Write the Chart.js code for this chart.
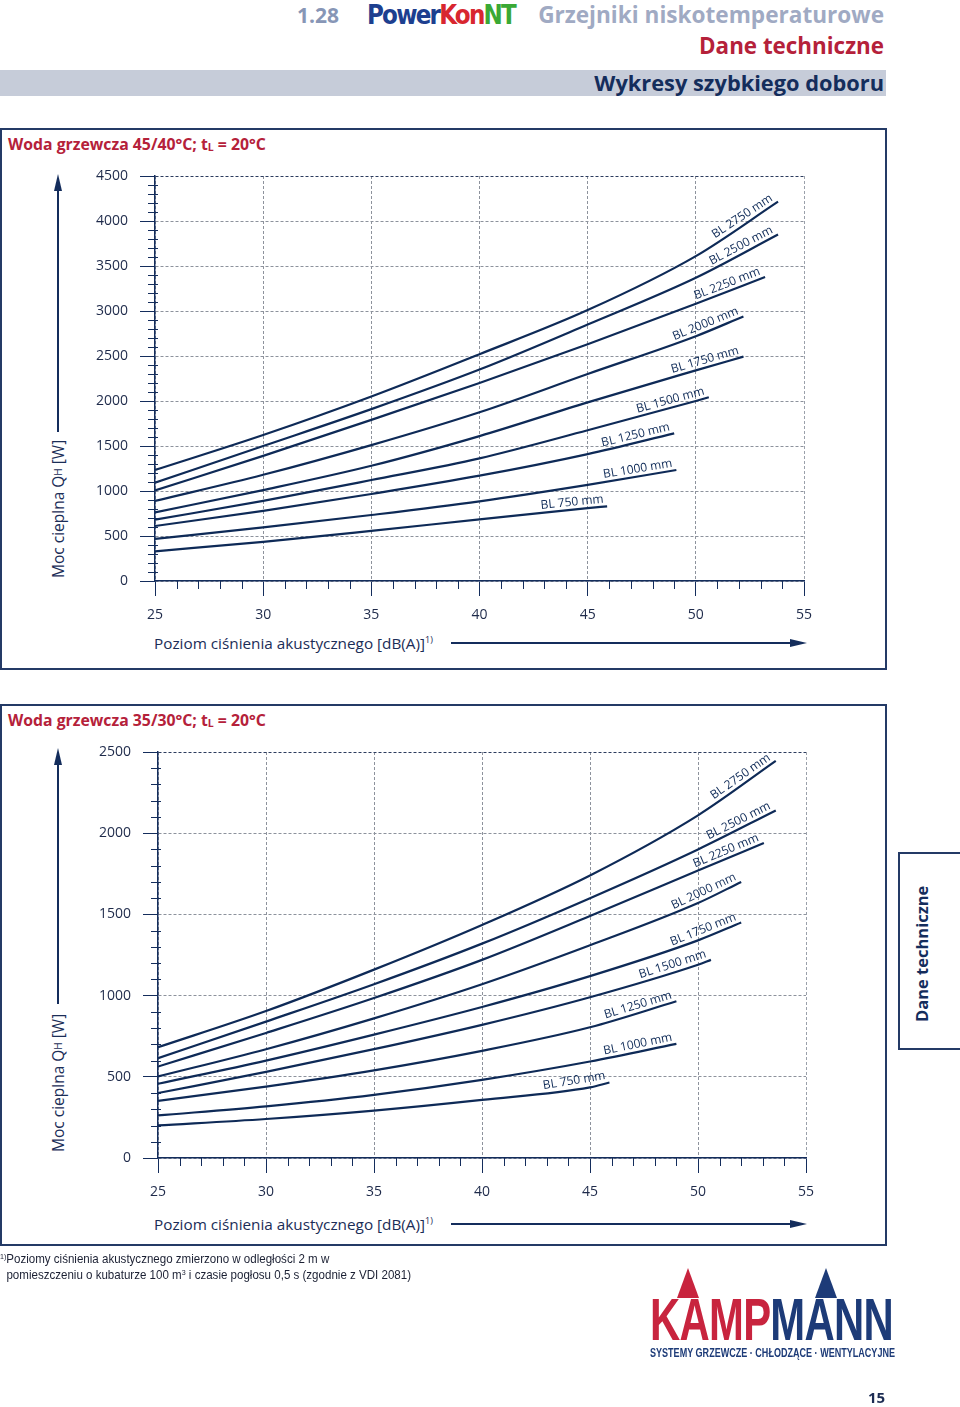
<!DOCTYPE html>
<html lang="pl">
<head>
<meta charset="utf-8">
<title>PowerKon NT – wykresy szybkiego doboru</title>
<script src="https://cdn.jsdelivr.net/npm/chart.js@4.4.1/dist/chart.umd.min.js"></script>
<style>
  html, body { margin: 0; padding: 0; background: #fff; }
  body { position: relative; width: 960px; height: 1407px; overflow: hidden;
         font-family: "Open Sans", "Noto Sans", sans-serif; color: #1b2d57; }
  .abs { position: absolute; white-space: nowrap; line-height: 1; }
  .naglowek { font-weight: 700; font-size: 22px; }
  .ramka { position: absolute; left: 0; width: 883px; height: 538px; border: 2px solid #243a66; }
  .tytul { font-weight: 700; font-size: 15.8px; color: #b5213a; }
  .tytul sub { font-size: 10.5px; vertical-align: -1px; }
  .osY { position: absolute; writing-mode: vertical-rl; transform: rotate(180deg);
         font-size: 15.5px; line-height: 20px; width: 20px; white-space: nowrap; }
  .osY sub { font-size: 10px; vertical-align: 0; }
  .osX { font-size: 15.3px; }
  .osX sup { font-size: 9px; vertical-align: 6px; }
  canvas { position: absolute; }
  .stopka { font-family: "Liberation Sans Narrow", "Liberation Sans", sans-serif; font-size: 13px; line-height: 14px; color: #1b2033; transform-origin: left top; }
  .stopka sup { font-size: 8px; vertical-align: 4px; }
  .logo { font-family: "Liberation Sans Narrow", "Liberation Sans", sans-serif; font-weight: 700; transform-origin: left top; }
</style>
</head>
<body>

<!-- naglowek strony -->
<div class="abs naglowek" style="left:297px; top:5px; font-size:21px; color:#8796b6;">1.28</div>
<div class="abs dopasuj" data-w="148" style="left:367px; top:2px; font-family:'DejaVu Sans',sans-serif; font-weight:700; font-size:26px; letter-spacing:-2px; transform-origin:left top;">
  <span style="color:#1d3f8f">Power</span><span style="color:#d8262f">Kon</span><span style="color:#3aa935">NT</span>
</div>
<div class="abs naglowek" style="right:76px; top:4px; font-size:22.6px; color:#a0aac3;">Grzejniki niskotemperaturowe</div>
<div class="abs naglowek" style="right:76px; top:35px; font-size:22.4px; color:#b5213a;">Dane techniczne</div>
<div class="abs" style="left:0; top:70px; width:886px; height:26px; background:#c6ccd9;"></div>
<div class="abs naglowek" style="right:76px; top:72px; font-size:21.8px; color:#142d5c;">Wykresy szybkiego doboru</div>

<!-- wykres 1 -->
<div class="ramka" style="top:128px;"></div>
<div class="abs tytul" style="left:8px; top:137px;">Woda grzewcza 45/40°C; t<sub>L</sub> = 20°C</div>
<div class="osY" style="left:48px; top:300px; height:278px;">Moc cieplna Q<sub>H</sub> [W]</div>
<div class="abs osX" style="left:154px; top:635px;">Poziom ciśnienia akustycznego [dB(A)]<sup>1)</sup></div>
<canvas id="wykres1" width="800" height="470" style="left:40px; top:160px;"></canvas>

<!-- wykres 2 -->
<div class="ramka" style="top:704px;"></div>
<div class="abs tytul" style="left:8px; top:713px;">Woda grzewcza 35/30°C; t<sub>L</sub> = 20°C</div>
<div class="osY" style="left:48px; top:874px; height:278px;">Moc cieplna Q<sub>H</sub> [W]</div>
<div class="abs osX" style="left:154px; top:1216px;">Poziom ciśnienia akustycznego [dB(A)]<sup>1)</sup></div>
<canvas id="wykres2" width="800" height="475" style="left:40px; top:735px;"></canvas>

<!-- zakladka boczna -->
<div class="abs" style="left:898px; top:852px; width:80px; height:194px; border:2px solid #243a66;"></div>
<div class="osY" style="left:912px; top:858px; height:164px; font-weight:700; font-size:16.5px; color:#142d5c;">Dane techniczne</div>

<!-- strzalki osi -->
<svg class="abs" width="960" height="1407" style="left:0; top:0; pointer-events:none;">
  <g stroke="#142d5c" stroke-width="2" fill="#142d5c">
    <line x1="58" y1="432" x2="58" y2="186"/>
    <polygon points="58,174 54,191 62,191" stroke="none"/>
    <line x1="451" y1="643" x2="795" y2="643"/>
    <polygon points="807,643 790,639 790,647" stroke="none"/>
    <line x1="58" y1="1004" x2="58" y2="760"/>
    <polygon points="58,748 54,765 62,765" stroke="none"/>
    <line x1="451" y1="1224" x2="795" y2="1224"/>
    <polygon points="807,1224 790,1220 790,1228" stroke="none"/>
  </g>
  <polygon points="688,1268 677,1298 699,1298" fill="#c8243e"/>
  <polygon points="826,1268 815,1298 837,1298" fill="#1d3b78"/>
</svg>

<!-- stopka -->
<div class="abs stopka dopasuj" data-w="411" style="left:0; top:1250px;"><sup>1)</sup>Poziomy ciśnienia akustycznego zmierzono w odległości 2 m w<br>&nbsp;&nbsp;pomieszczeniu o kubaturze 100 m<sup>3</sup> i czasie pogłosu 0,5 s (zgodnie z VDI 2081)</div>

<div class="abs logo dopasuj" data-w="243" style="left:650px; top:1290px; font-size:60px; letter-spacing:-1px;"><span style="color:#c8243e">KAMP</span><span style="color:#1d3b78">MANN</span></div>
<div class="abs logo dopasuj" data-w="245" style="left:650px; top:1346px; font-size:13px; color:#1d3b78;">SYSTEMY GRZEWCZE · CHŁODZĄCE · WENTYLACYJNE</div>
<div class="abs" style="left:868px; top:1390px; font-weight:700; font-size:15px; color:#1b2b52;">15</div>

<script>
// Dane (moc cieplna QH [W] przy 25, 30, 35, 40, 45, 50 dB(A) i na koncu krzywej)
const xTicks = [25, 30, 35, 40, 45, 50, 55];
const xPunkty = [25, 30, 35, 40, 45, 50];
const nazwy = ["BL 2750 mm", "BL 2500 mm", "BL 2250 mm", "BL 2000 mm", "BL 1750 mm",
               "BL 1500 mm", "BL 1250 mm", "BL 1000 mm", "BL 750 mm"];

// Woda grzewcza 45/40°C
const w1YTicks = [0, 500, 1000, 1500, 2000, 2500, 3000, 3500, 4000, 4500];
const w1Koniec = [53.8, 53.8, 53.2, 52.2, 52.2, 50.6, 49.0, 49.1, 45.9];
const w1Moc = [
  [1233, 1622, 2050, 2520, 3010, 3610, 4215],
  [1093, 1500, 1910, 2350, 2850, 3370, 3850],
  [1007, 1390, 1790, 2200, 2630, 3080, 3378],
  [889, 1180, 1510, 1875, 2300, 2720, 2940],
  [763, 1010, 1280, 1610, 1985, 2340, 2493],
  [681, 890, 1122, 1363, 1675, 2000, 2041],
  [611, 780, 967, 1170, 1410, 1641],
  [467, 595, 733, 885, 1068, 1233],
  [330, 435, 557, 685, 810, 830]
];

// Woda grzewcza 35/30°C
const w2YTicks = [0, 500, 1000, 1500, 2000, 2500];
const w2Koniec = [53.6, 53.6, 53.05, 52.0, 52.0, 50.6, 49.0, 49.0, 45.9];
const w2Moc = [
  [682, 905, 1160, 1435, 1740, 2110, 2445],
  [615, 840, 1070, 1320, 1600, 1900, 2140],
  [563, 770, 985, 1220, 1490, 1770, 1940],
  [502, 670, 860, 1070, 1310, 1570, 1700],
  [457, 600, 760, 930, 1120, 1340, 1450],
  [400, 530, 670, 820, 990, 1190, 1220],
  [352, 440, 540, 660, 805, 965],
  [262, 318, 389, 481, 594, 703],
  [201, 240, 292, 358, 435, 465]
];

const kolorLinii = "#0e2a57";
const kolorOsi = "#142d5c";
const kolorSiatki = "#8d929c";

function punkty(moc, koniec) {
  return moc.map((q, i) => ({ x: i < moc.length - 1 ? xPunkty[i] : koniec, y: q }));
}

// podpisy "BL ... mm" wzdluz konca krzywej (kat z cięciwy ok. 2,5 dB przed koncem)
const podpisyLinii = {
  id: "podpisyLinii",
  afterDatasetsDraw(chart) {
    const ctx = chart.ctx;
    chart.data.datasets.forEach((ds, i) => {
      const pts = chart.getDatasetMeta(i).data;
      const xs = ds.data.map(p => p.x);
      const xa = xs[xs.length - 1] - 2.5;
      const j = xs.findIndex(v => v > xa);
      const t = (xa - xs[j - 1]) / (xs[j] - xs[j - 1]);
      const ax = pts[j - 1].x + t * (pts[j].x - pts[j - 1].x);
      const ay = pts[j - 1].y + t * (pts[j].y - pts[j - 1].y);
      const b = pts[pts.length - 1];
      const kat = Math.atan2(b.y - ay, b.x - ax);
      ctx.save();
      ctx.translate(b.x, b.y);
      ctx.rotate(kat);
      ctx.font = "12px 'Open Sans', sans-serif";
      ctx.fillStyle = kolorLinii;
      ctx.textAlign = "right";
      ctx.textBaseline = "alphabetic";
      ctx.fillText(ds.label, -3, -4);
      ctx.restore();
    });
  }
};

// drobne podzialki co 100 W i co 1 dB
const drobnePodzialki = {
  id: "drobnePodzialki",
  afterDraw(chart) {
    const { ctx, chartArea, scales: { x, y } } = chart;
    ctx.save();
    ctx.strokeStyle = kolorOsi;
    ctx.lineWidth = 1;
    ctx.beginPath();
    for (let v = y.min + 100; v < y.max; v += 100) {
      if (v % 500 === 0) continue;
      const py = Math.round(y.getPixelForValue(v)) + 0.5;
      ctx.moveTo(chartArea.left - 7, py);
      ctx.lineTo(chartArea.left + 3, py);
    }
    for (let v = x.min + 1; v < x.max; v += 1) {
      if (v % 5 === 0) continue;
      const px = Math.round(x.getPixelForValue(v)) + 0.5;
      ctx.moveTo(px, chartArea.bottom);
      ctx.lineTo(px, chartArea.bottom + 8);
    }
    ctx.stroke();
    ctx.restore();
  }
};

function rysuj(id, moc, koniec, yTicks, szerY, wysX, odstep) {
  const yMax = yTicks[yTicks.length - 1];
  return new Chart(document.getElementById(id), {
    type: "line",
    data: {
      datasets: moc.map((m, i) => ({
        label: nazwy[i],
        data: punkty(m, koniec[i]),
        borderColor: kolorLinii,
        borderWidth: 2.2,
        pointRadius: 0,
        cubicInterpolationMode: "monotone",
        fill: false
      }))
    },
    options: {
      responsive: false,
      animation: false,
      layout: { padding: odstep },
      plugins: { legend: { display: false }, tooltip: { enabled: false } },
      scales: {
        x: {
          type: "linear", min: 25, max: 55,
          afterBuildTicks: s => { s.ticks = xTicks.map(v => ({ value: v })); },
          afterFit: s => { s.height = wysX; s.paddingLeft = 0; s.paddingRight = 0; },
          grid: {
            color: c => c.tick && c.tick.value === 55 ? "#9aa0aa" : kolorSiatki,
            lineWidth: 1, tickLength: 15, tickColor: kolorOsi, tickWidth: 1
          },
          border: { display: true, color: kolorOsi, width: 1.5, dash: [3, 2] },
          ticks: { padding: 11, color: "#1e2a4a", font: { family: "Open Sans", size: 14 }, callback: v => String(v) }
        },
        y: {
          type: "linear", min: 0, max: yMax,
          afterBuildTicks: s => { s.ticks = yTicks.map(v => ({ value: v })); },
          afterFit: s => { s.width = szerY; s.paddingTop = 0; s.paddingBottom = 0; },
          grid: {
            color: c => c.tick && c.tick.value === yMax ? "#2c3c5e" : kolorSiatki,
            lineWidth: 1, tickLength: 15, tickColor: kolorOsi, tickWidth: 1
          },
          border: { display: true, color: kolorOsi, width: 1.5, dash: [3, 2] },
          ticks: { padding: 12, color: "#1e2a4a", font: { family: "Open Sans", size: 14 }, callback: v => String(v) }
        }
      }
    },
    plugins: [podpisyLinii, drobnePodzialki]
  });
}

rysuj("wykres1", w1Moc, w1Koniec, w1YTicks, 115, 49, { top: 16, right: 36, left: 0, bottom: 0 });
rysuj("wykres2", w2Moc, w2Koniec, w2YTicks, 118, 52, { top: 17, right: 34, left: 0, bottom: 0 });

// dopasowanie szerokosci napisow (logo, stopka)
document.querySelectorAll(".dopasuj").forEach(el => {
  const w = el.getBoundingClientRect().width;
  el.style.transform = "scaleX(" + (Number(el.dataset.w) / w) + ")";
});
</script>
</body>
</html>
